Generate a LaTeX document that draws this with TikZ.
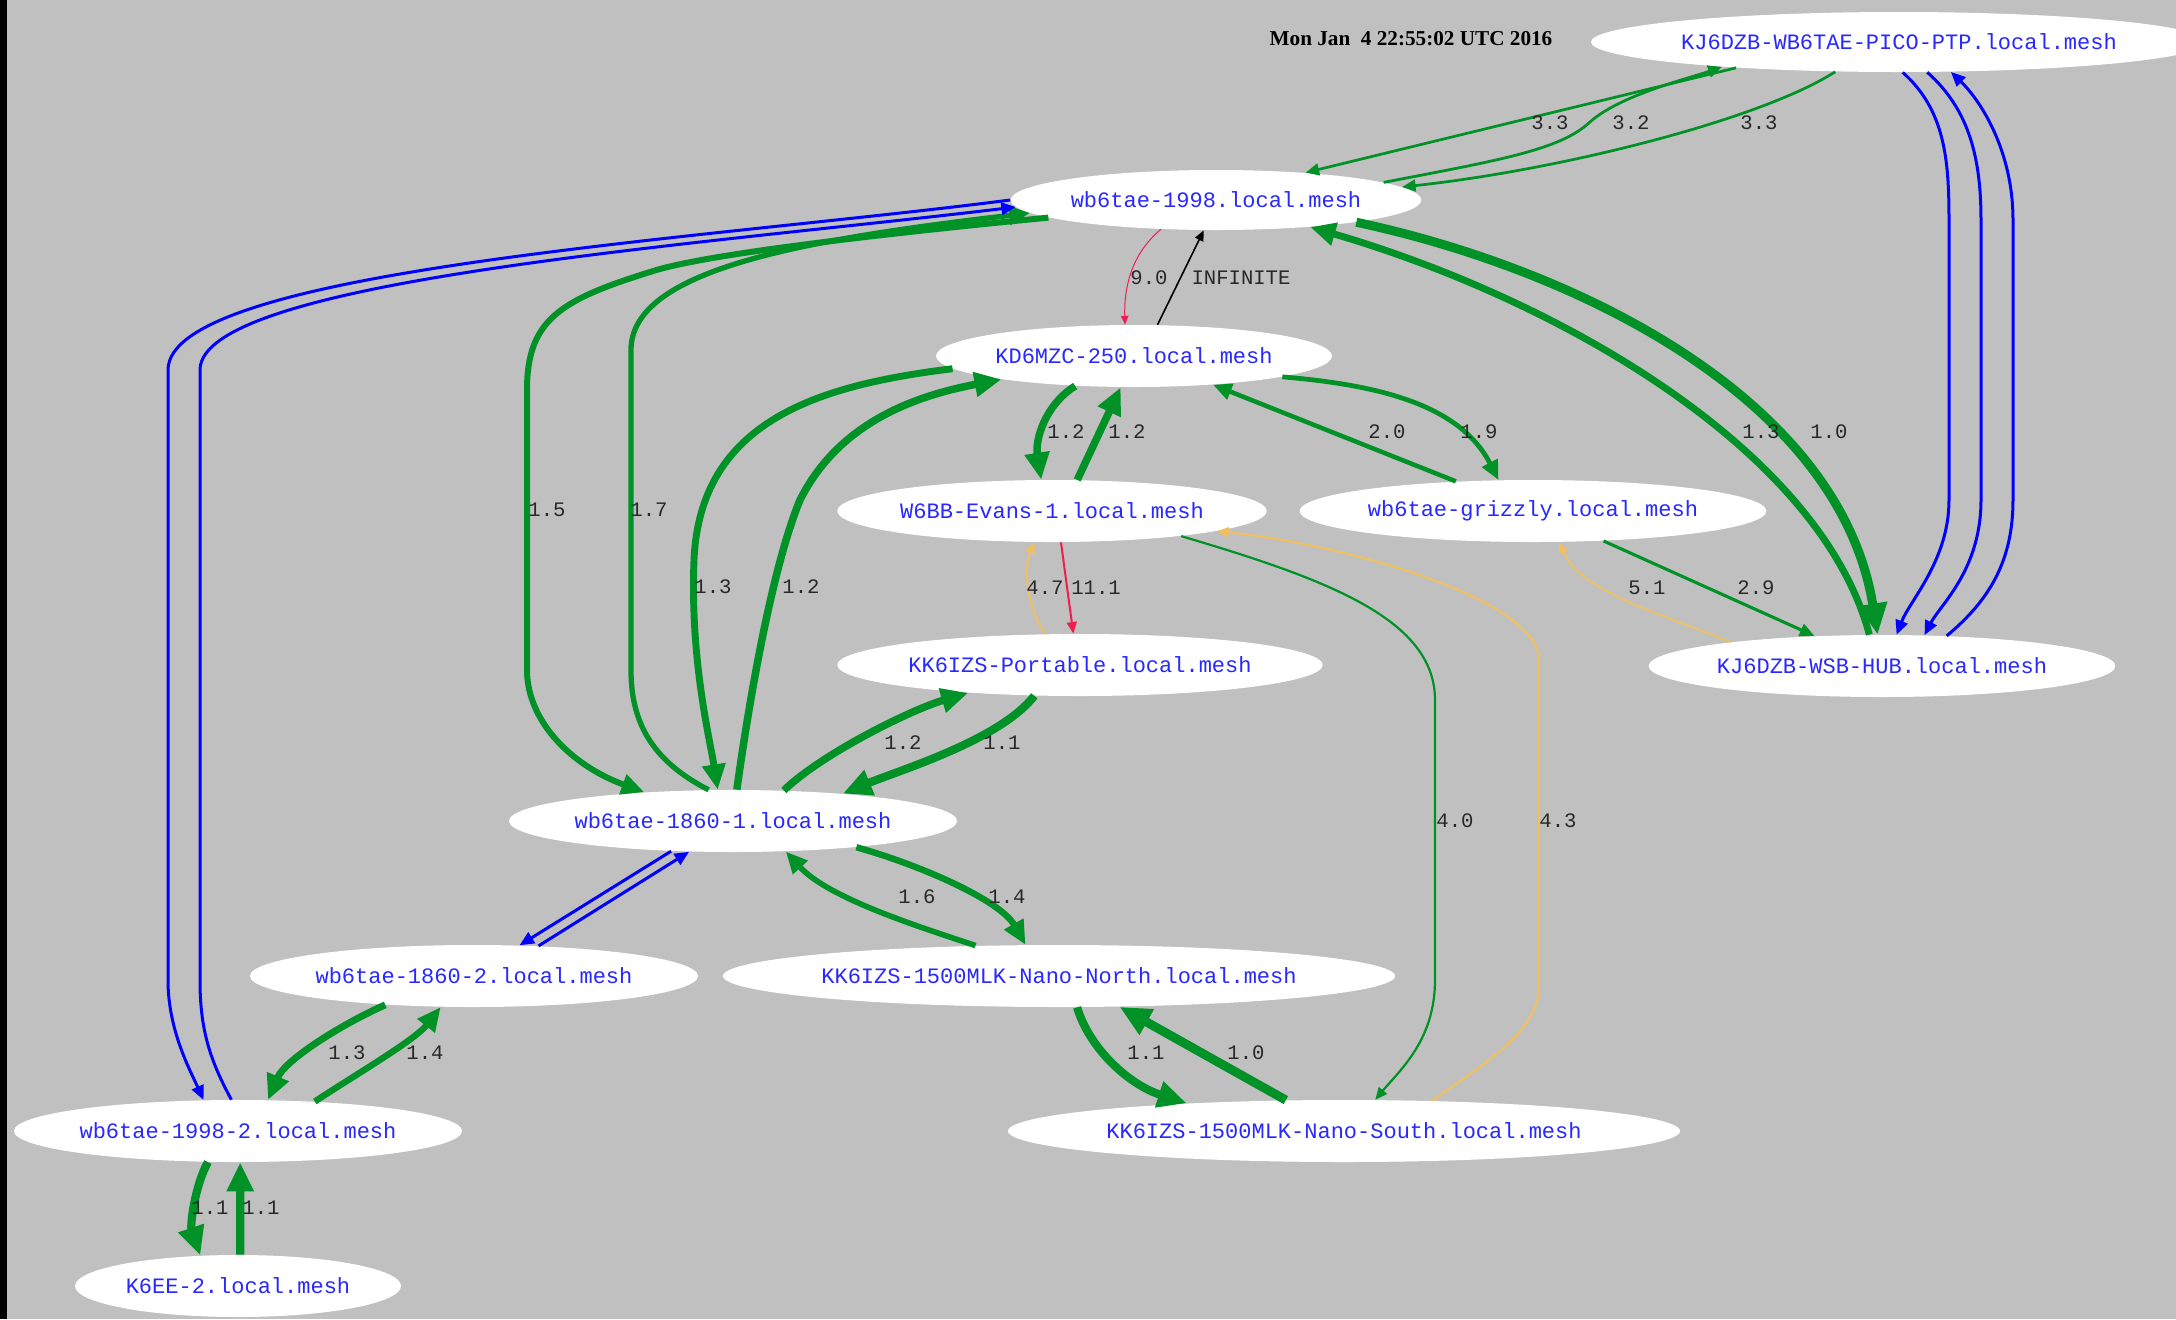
\documentclass[tikz,border=0pt]{standalone}
\usepackage{fontspec}
\setmainfont{Liberation Serif}
\setmonofont{Liberation Mono}
\usetikzlibrary{arrows.meta,shapes.geometric}
\definecolor{bggray}{RGB}{192,192,192}
\definecolor{linkgreen}{RGB}{0,146,38}
\definecolor{linkblue}{RGB}{0,0,255}
\definecolor{linkred}{RGB}{240,30,80}
\definecolor{linkorange}{RGB}{240,192,95}
\definecolor{nodeblue}{RGB}{40,40,255}
\definecolor{lblgray}{RGB}{40,40,40}

\begin{document}
\begin{tikzpicture}[x=0.5pt, y=-0.5pt, >={Triangle[length=3pt 2.8, width=2.5pt 2.5]},
    mesh/.style={ellipse, fill=white, inner sep=0pt, minimum height=31pt, text=nodeblue, font=\ttfamily\fontsize{11}{13}\selectfont},
    cost/.style={inner sep=0pt, text=lblgray, font=\ttfamily\fontsize{10.3}{12}\selectfont},
    glink/.style={->, draw=linkgreen, line width=#1},
    blink/.style={->, draw=linkblue, line width=1.5pt},
    rlink/.style={->, draw=linkred, line width=#1},
    olink/.style={->, draw=linkorange, line width=#1}]
    \useasboundingbox (0,0) rectangle (2176,1319);
    \fill[bggray] (0,0) rectangle (2176,1319);
    \fill[black] (0,0) rectangle (7,1319);

    \node[font=\bfseries\fontsize{10.6}{12}\selectfont] (stamp) at (1411,39) {Mon Jan~~4 22:55:02 UTC 2016};

    \node[mesh, minimum width=299pt, minimum height=30pt] (ptp) at (1899,42) {KJ6DZB-WB6TAE-PICO-PTP.local.mesh};
    \node[mesh, minimum width=205pt, minimum height=30pt] (n1998) at (1216,200) {wb6tae-1998.local.mesh};
    \node[mesh, minimum width=198pt] (kd6) at (1134,356) {KD6MZC-250.local.mesh};
    \node[mesh, minimum width=214pt] (evans) at (1052,511) {W6BB-Evans-1.local.mesh};
    \node[mesh, minimum width=231pt] (grizzly) at (1533,511) {wb6tae-grizzly.local.mesh};
    \node[mesh, minimum width=241pt] (portable) at (1080,665) {KK6IZS-Portable.local.mesh};
    \node[mesh, minimum width=231pt] (hub) at (1882,666) {KJ6DZB-WSB-HUB.local.mesh};
    \node[mesh, minimum width=224pt] (n1860a) at (733,821) {wb6tae-1860-1.local.mesh};
    \node[mesh, minimum width=224pt] (n1860b) at (474,976) {wb6tae-1860-2.local.mesh};
    \node[mesh, minimum width=326pt] (north) at (1059,976) {KK6IZS-1500MLK-Nano-North.local.mesh};
    \node[mesh, minimum width=224pt] (n1998b) at (238,1131) {wb6tae-1998-2.local.mesh};
    \node[mesh, minimum width=163pt] (k6ee) at (238,1286) {K6EE-2.local.mesh};
    \node[mesh, minimum width=326pt] (south) at (1344,1131) {KK6IZS-1500MLK-Nano-South.local.mesh};

    \draw[glink=1.36pt] (ptp.189) -- (n1998.17);
    \draw[glink=1.4pt] (n1998.6) .. controls (1500,160) and (1560,150) .. (1590,122) .. controls (1620,95) and (1690,78) .. (ptp.188);
    \draw[glink=1.36pt] (ptp.205) .. controls (1760,120) and (1560,170) .. (n1998.4.5);
    \draw[blink] (ptp.277.6) .. controls (1945,110) and (1949,160) .. (1949,220) -- (1949,500) .. controls (1949,560) and (1910,600) .. (hub.65.7);
    \draw[blink] (ptp.313) .. controls (1970,110) and (1981,160) .. (1981,220) -- (1981,500) .. controls (1981,570) and (1940,605) .. (hub.36.8);
    \draw[blink] (hub.25.7) .. controls (1990,600) and (2013,560) .. (2013,500) -- (2013,220) .. controls (2013,150) and (1980,100) .. (ptp.330.4);
    \draw[glink=4.5pt] (n1998.351.5) .. controls (1580,270) and (1840,400) .. (hub.98);
    \draw[glink=3.46pt] (hub.112) .. controls (1820,450) and (1560,300) .. (n1998.344);
    \draw[rlink=0.5pt] (n1998.208) .. controls (1130,255) and (1124,290) .. (kd6.106);
    \draw[->, line width=0.8pt] (kd6.53) -- (n1998.248);
    \draw[glink=3pt] (n1998.186) .. controls (870,235) and (700,255) .. (650,272) .. controls (560,300) and (527,320) .. (527,390) -- (527,670) .. controls (527,720) and (570,765) .. (n1860a.162.3);
    \draw[glink=2.65pt] (n1860a.128) .. controls (650,760) and (631,720) .. (631,670) -- (631,350) .. controls (631,270) and (800,240) .. (n1998.184);
    \draw[blink] (n1998.180.5) .. controls (700,240) and (168,270) .. (168,370) -- (168,980) .. controls (168,1030) and (190,1070) .. (n1998b.138.8);
    \draw[blink] (n1998b.102.7) .. controls (210,1060) and (200,1030) .. (200,980) -- (200,370) .. controls (200,280) and (700,245) .. (n1998.182);
    \draw[glink=3.46pt] (kd6.184) .. controls (820,385) and (700,420) .. (694,560) .. controls (690,660) and (710,740) .. (n1860a.116);
    \draw[glink=3.75pt] (n1860a.83) .. controls (752,680) and (775,560) .. (800,500) .. controls (840,420) and (920,395) .. (kd6.190);
    \draw[glink=3.75pt] (kd6.207) .. controls (1045,405) and (1035,440) .. (evans.109);
    \draw[glink=3.75pt] (evans.51) -- (kd6.247);
    \draw[glink=2.25pt] (grizzly.159.5) -- (kd6.340.5);
    \draw[glink=2.37pt] (kd6.352.5) .. controls (1380,385) and (1460,405) .. (grizzly.138);
    \draw[rlink=1pt] (evans.286) -- (portable.102);
    \draw[olink=0.96pt] (portable.138.5) .. controls (1030,615) and (1022,570) .. (evans.241);
    \draw[glink=1.1pt] (evans.349) .. controls (1330,580) and (1435,620) .. (1435,700) -- (1435,980) .. controls (1435,1040) and (1400,1070) .. (south.45);
    \draw[olink=1.05pt] (south.19) .. controls (1490,1060) and (1539,1030) .. (1539,985) -- (1539,660) .. controls (1539,600) and (1350,545) .. (evans.353.2);
    \draw[glink=1.55pt] (grizzly.337.4) -- (hub.156.5);
    \draw[olink=0.88pt] (hub.171.2) .. controls (1650,610) and (1580,590) .. (grizzly.310);
    \draw[glink=4.1pt] (portable.214) .. controls (1000,740) and (900,770) .. (n1860a.14);
    \draw[glink=3.75pt] (n1860a.31.7) .. controls (820,755) and (910,710) .. (portable.194.9);
    \draw[blink] (n1860a.206.5) -- (n1860b.34);
    \draw[blink] (n1860b.25.3) -- (n1860a.215.9);
    \draw[glink=2.8pt] (north.160.6) .. controls (930,930) and (830,900) .. (n1860a.330.4);
    \draw[glink=3.2pt] (n1860a.348) .. controls (920,865) and (1000,900) .. (north.137);
    \draw[glink=3.46pt] (n1860b.198.7) .. controls (340,1025) and (285,1060) .. (n1998b.46.6);
    \draw[glink=3.2pt] (n1998b.21.6) .. controls (355,1075) and (415,1040) .. (n1860b.223.8);
    \draw[glink=4.1pt] (n1998b.226.6) .. controls (195,1185) and (190,1225) .. (k6ee.141.6);
    \draw[glink=4.1pt] (k6ee.86) -- (n1998b.274);
    \draw[glink=4.1pt] (north.300) .. controls (1090,1050) and (1130,1085) .. (south.170.4);
    \draw[glink=4.5pt] (south.152.7) -- (north.333.5);

    \node[cost] (l1) at (1550,123) {3.3};
    \node[cost] (l2) at (1631,123) {3.2};
    \node[cost] (l3) at (1759,123) {3.3};
    \node[cost] (l4) at (1149,278) {9.0};
    \node[cost] (l5) at (1241,278) {INFINITE};
    \node[cost] (l6) at (1761,432) {1.3};
    \node[cost] (l7) at (1829,432) {1.0};
    \node[cost] (l8) at (1066,432) {1.2};
    \node[cost] (l9) at (1127,432) {1.2};
    \node[cost] (l10) at (1387,432) {2.0};
    \node[cost] (l11) at (1479,432) {1.9};
    \node[cost] (l12) at (547,510) {1.5};
    \node[cost] (l13) at (649,510) {1.7};
    \node[cost] (l14) at (713,587) {1.3};
    \node[cost] (l15) at (801,587) {1.2};
    \node[cost] (l16) at (1045,588) {4.7};
    \node[cost] (l17) at (1096,588) {11.1};
    \node[cost] (l18) at (1647,588) {5.1};
    \node[cost] (l19) at (1756,588) {2.9};
    \node[cost] (l20) at (903,743) {1.2};
    \node[cost] (l21) at (1002,743) {1.1};
    \node[cost] (l22) at (1455,821) {4.0};
    \node[cost] (l23) at (1558,821) {4.3};
    \node[cost] (l24) at (917,897) {1.6};
    \node[cost] (l25) at (1007,897) {1.4};
    \node[cost] (l26) at (347,1053) {1.3};
    \node[cost] (l27) at (425,1053) {1.4};
    \node[cost] (l28) at (1146,1053) {1.1};
    \node[cost] (l29) at (1246,1053) {1.0};
    \node[cost] (l30) at (210,1208) {1.1};
    \node[cost] (l31) at (261,1208) {1.1};
\end{tikzpicture}
\end{document}
